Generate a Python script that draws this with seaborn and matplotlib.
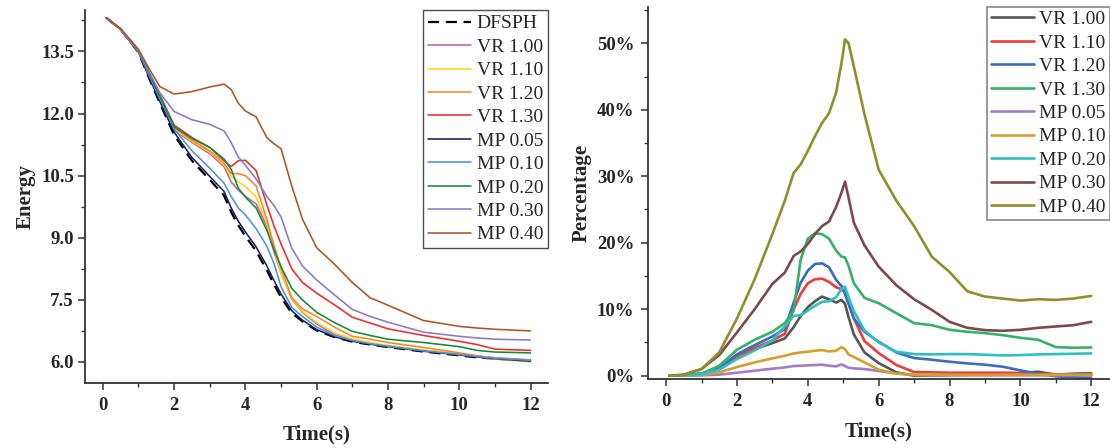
import matplotlib
matplotlib.use("Agg")
import matplotlib.pyplot as plt
import seaborn as sns
from matplotlib.ticker import MultipleLocator, FuncFormatter
from matplotlib.font_manager import FontProperties

# ---------------- data: left panel (Energy) ----------------
t_energy = [0.1, 0.5, 1.0, 1.3, 1.6, 2.0, 2.5, 3.0, 3.4, 3.6, 3.8, 4.0, 4.3, 4.6,
            4.8, 5.0, 5.3, 5.6, 6.0, 6.5, 7.0, 7.5, 8.0, 9.0, 10.0, 10.5, 11.0, 12.0]

e_dfsph = [14.31, 14.03, 13.48, 12.85, 12.25, 11.48, 10.86, 10.40, 10.02, 9.62, 9.30, 9.04, 8.68, 8.22,
           7.88, 7.56, 7.18, 6.98, 6.76, 6.60, 6.49, 6.42, 6.36, 6.25, 6.16, 6.11, 6.08, 6.02]
e_vr100 = [14.31, 14.03, 13.50, 12.95, 12.38, 11.60, 11.30, 11.03, 10.72, 10.35, 10.15, 10.00, 9.82, 9.28,
           8.66, 8.15, 7.52, 7.20, 6.92, 6.66, 6.52, 6.44, 6.38, 6.28, 6.19, 6.14, 6.10, 6.05]
e_vr110 = [14.31, 14.03, 13.50, 12.96, 12.40, 11.63, 11.33, 11.07, 10.76, 10.48, 10.35, 10.24, 9.98, 9.35,
           8.75, 8.14, 7.52, 7.22, 6.95, 6.70, 6.56, 6.47, 6.40, 6.29, 6.19, 6.13, 6.07, 6.00]
e_vr120 = [14.31, 14.04, 13.52, 12.97, 12.42, 11.66, 11.36, 11.10, 10.80, 10.55, 10.55, 10.50, 10.25, 9.45,
           8.82, 8.28, 7.55, 7.28, 7.10, 6.84, 6.62, 6.55, 6.47, 6.35, 6.22, 6.15, 6.10, 6.04]
e_vr130 = [14.31, 14.04, 13.52, 12.98, 12.45, 11.72, 11.42, 11.18, 10.86, 10.72, 10.86, 10.87, 10.62, 9.80,
           9.29, 8.85, 8.25, 7.92, 7.66, 7.38, 7.08, 6.94, 6.80, 6.64, 6.50, 6.42, 6.31, 6.28]
e_mp005 = [14.31, 14.03, 13.48, 12.87, 12.29, 11.55, 10.94, 10.48, 10.12, 9.72, 9.40, 9.14, 8.78, 8.32,
           7.97, 7.64, 7.24, 7.01, 6.78, 6.61, 6.50, 6.43, 6.37, 6.26, 6.17, 6.12, 6.08, 6.02]
e_mp010 = [14.31, 14.03, 13.49, 12.92, 12.36, 11.63, 11.10, 10.68, 10.32, 10.00, 9.72, 9.55, 9.22, 8.80,
           8.38, 7.82, 7.32, 7.10, 6.84, 6.64, 6.52, 6.44, 6.38, 6.27, 6.18, 6.13, 6.09, 6.04]
e_mp020 = [14.31, 14.03, 13.50, 12.96, 12.42, 11.68, 11.40, 11.18, 10.90, 10.65, 10.20, 9.98, 9.72, 9.18,
           8.72, 8.30, 7.78, 7.50, 7.20, 6.95, 6.74, 6.64, 6.55, 6.47, 6.37, 6.28, 6.24, 6.22]
e_mp030 = [14.31, 14.03, 13.50, 13.00, 12.50, 12.05, 11.85, 11.74, 11.58, 11.30, 10.95, 10.75, 10.42, 10.00,
           9.78, 9.50, 8.75, 8.32, 7.98, 7.62, 7.27, 7.10, 6.96, 6.72, 6.62, 6.58, 6.55, 6.53]
e_mp040 = [14.31, 14.05, 13.55, 13.08, 12.65, 12.47, 12.53, 12.64, 12.71, 12.58, 12.25, 12.06, 11.92, 11.42,
           11.27, 11.15, 10.25, 9.45, 8.76, 8.36, 7.92, 7.55, 7.37, 7.00, 6.86, 6.82, 6.79, 6.75]

energy_labels = ["DFSPH", "VR 1.00", "VR 1.10", "VR 1.20", "VR 1.30",
                 "MP 0.05", "MP 0.10", "MP 0.20", "MP 0.30", "MP 0.40"]

# ---------------- data: right panel (Percentage) ----------------
t_pct = [0.1, 0.5, 1.0, 1.5, 2.0, 2.5, 3.0, 3.35, 3.6, 3.8, 4.0, 4.2, 4.4, 4.6, 4.8, 4.95, 5.05,
         5.15, 5.3, 5.6, 6.0, 6.5, 7.0, 7.5, 8.0, 8.5, 9.0, 9.5, 10.0, 10.5, 11.0, 11.5, 12.0]

p_vr100 = [0.0, 0.05, 0.3, 1.0, 3.0, 4.0, 4.9, 5.6, 7.3, 9.0, 10.3, 11.2, 11.9, 11.5, 11.0, 11.4, 10.8,
           8.8, 6.2, 3.5, 1.9, 0.5, 0.0, 0.05, 0.1, 0.15, 0.15, 0.2, 0.4, 0.6, 0.15, 0.3, 0.35]
p_vr110 = [0.0, 0.05, 0.3, 1.0, 2.9, 4.2, 5.3, 6.3, 10.0, 12.3, 13.9, 14.5, 14.6, 14.1, 13.3, 13.0, 12.6,
           11.0, 8.6, 5.2, 3.4, 1.6, 0.55, 0.5, 0.45, 0.45, 0.45, 0.45, 0.4, 0.3, 0.2, 0.15, 0.1]
p_vr120 = [0.0, 0.05, 0.3, 1.2, 3.2, 4.6, 5.9, 7.0, 11.0, 14.0, 15.8, 16.8, 16.9, 16.3, 14.4, 13.5, 12.3,
           10.8, 8.6, 6.6, 5.1, 3.5, 2.65, 2.4, 2.1, 1.85, 1.65, 1.35, 0.8, 0.3, -0.1, -0.25, -0.35]
p_vr130 = [0.0, 0.05, 0.3, 1.5, 3.9, 5.4, 6.6, 7.9, 9.8, 17.5, 20.6, 21.4, 21.3, 20.6, 18.8, 17.9, 17.8,
           16.5, 13.9, 11.7, 10.9, 9.4, 7.9, 7.6, 6.9, 6.6, 6.4, 6.1, 5.7, 5.4, 4.3, 4.2, 4.25]
p_mp005 = [0.0, 0.0, 0.05, 0.15, 0.45, 0.75, 1.05, 1.25, 1.45, 1.5, 1.55, 1.6, 1.65, 1.5, 1.4, 1.7, 1.45,
           1.2, 1.1, 1.0, 0.7, 0.35, 0.1, 0.05, 0.05, 0.05, 0.05, 0.05, 0.05, 0.05, 0.05, 0.05, 0.05]
p_mp010 = [0.0, 0.0, 0.1, 0.5, 1.3, 2.0, 2.6, 3.0, 3.35, 3.5, 3.6, 3.75, 3.85, 3.65, 3.75, 4.3, 4.0,
           3.2, 2.8, 2.0, 0.9, 0.3, 0.15, 0.15, 0.15, 0.15, 0.15, 0.15, 0.15, 0.15, 0.15, 0.15, 0.15]
p_mp020 = [0.0, 0.05, 0.2, 0.9, 2.5, 3.8, 5.3, 7.4, 9.0, 9.1, 9.8, 10.5, 11.1, 11.2, 11.8, 13.0, 13.4,
           11.8, 9.7, 6.8, 5.0, 3.6, 3.25, 3.2, 3.25, 3.25, 3.15, 3.05, 3.1, 3.2, 3.25, 3.3, 3.35]
p_mp030 = [0.0, 0.15, 1.0, 3.1, 6.5, 10.0, 13.8, 15.5, 18.0, 18.7, 19.8, 21.3, 22.5, 23.2, 25.4, 27.5, 29.2,
           26.8, 23.0, 19.6, 16.4, 13.6, 11.5, 9.9, 8.1, 7.2, 6.85, 6.75, 6.9, 7.2, 7.4, 7.6, 8.1]
p_mp040 = [0.0, 0.1, 1.0, 3.5, 8.6, 14.5, 21.3, 26.3, 30.5, 31.8, 33.8, 36.0, 38.0, 39.5, 42.6, 47.0, 50.6,
           50.0, 46.5, 39.3, 31.0, 26.3, 22.5, 17.9, 15.6, 12.7, 11.9, 11.6, 11.3, 11.5, 11.4, 11.6, 12.0]

pct_labels = ["VR 1.00", "VR 1.10", "VR 1.20", "VR 1.30",
              "MP 0.05", "MP 0.10", "MP 0.20", "MP 0.30", "MP 0.40"]

# ---------------- styles ----------------
energy_series = [e_dfsph, e_vr100, e_vr110, e_vr120, e_vr130, e_mp005, e_mp010, e_mp020, e_mp030, e_mp040]
energy_colors = ["#000000", "#c060b0", "#ffd21a", "#f5862e", "#ee2b2b",
                 "#1c1c6a", "#4b93dc", "#14893a", "#8b79c6", "#a8552a"]
pct_series = [p_vr100, p_vr110, p_vr120, p_vr130, p_mp005, p_mp010, p_mp020, p_mp030, p_mp040]
pct_colors = ["#555555", "#ee3c3c", "#3a6cc0", "#37b06a", "#a57cc6",
              "#d4a02c", "#2ebfc6", "#7b4a4c", "#8f8f2c"]

sns.set_theme(style="ticks")
plt.rcParams["font.family"] = ["Liberation Serif", "DejaVu Serif"]
plt.rcParams["axes.linewidth"] = 1.3
plt.rcParams["axes.edgecolor"] = "#333333"

fig = plt.figure(figsize=(11.1, 4.48), dpi=100)
axL = fig.add_axes([0.0766, 0.1458, 0.4174, 0.8319])
axR = fig.add_axes([0.5841, 0.1540, 0.4150, 0.8310])

for lab, vals, col in zip(energy_labels, energy_series, energy_colors):
    if lab == "DFSPH":
        sns.lineplot(x=t_energy, y=vals, ax=axL, color=col, label=lab,
                     linewidth=1.6, linestyle=(0, (5, 3)), zorder=1)
    else:
        sns.lineplot(x=t_energy, y=vals, ax=axL, color=col, label=lab,
                     linewidth=1.15, zorder=2)

for lab, vals, col in zip(pct_labels, pct_series, pct_colors):
    sns.lineplot(x=t_pct, y=vals, ax=axR, color=col, label=lab, linewidth=1.9)

leg_font = FontProperties(family="Liberation Serif", size=14)

# left axes
axL.set_xlim(-0.5, 12.5)
axL.set_ylim(5.5, 14.5)
axL.xaxis.set_major_locator(MultipleLocator(2))
axL.xaxis.set_minor_locator(MultipleLocator(1))
axL.yaxis.set_major_locator(MultipleLocator(1.5))
axL.yaxis.set_minor_locator(MultipleLocator(0.75))
axL.yaxis.set_major_formatter(FuncFormatter(lambda v, p: f"{v:.1f}"))
axL.set_ylabel("Energy", fontsize=15, fontweight="bold", labelpad=4)
axL.set_xlabel("Time(s)", fontsize=15, fontweight="bold", labelpad=8)
leg = axL.legend(loc="upper right", bbox_to_anchor=(1.0, 1.0), borderaxespad=0.0,
                 prop=leg_font, frameon=True, fancybox=False, handlelength=2.2,
                 handletextpad=0.3, labelspacing=0.3, borderpad=0.25)
leg.get_frame().set_edgecolor("#222222")
leg.get_frame().set_linewidth(1.0)

# right axes
axR.set_xlim(-0.5, 12.5)
axR.set_ylim(-0.5, 55.5)
axR.xaxis.set_major_locator(MultipleLocator(2))
axR.xaxis.set_minor_locator(MultipleLocator(1))
axR.yaxis.set_major_locator(MultipleLocator(10))
axR.yaxis.set_minor_locator(MultipleLocator(5))
axR.yaxis.set_major_formatter(FuncFormatter(lambda v, p: f"{v:.0f}%"))
axR.set_ylabel("Percentage", fontsize=15, fontweight="bold", labelpad=4)
axR.set_xlabel("Time(s)", fontsize=15, fontweight="bold", labelpad=8)
leg2 = axR.legend(loc="upper right", bbox_to_anchor=(1.002, 1.0), borderaxespad=0.0,
                  prop=leg_font, frameon=True, fancybox=False, handlelength=2.2,
                  handletextpad=0.3, labelspacing=0.3, borderpad=0.2)
leg2.get_frame().set_edgecolor("#777777")
leg2.get_frame().set_linewidth(1.3)

for ax in (axL, axR):
    sns.despine(ax=ax)
    ax.tick_params(which="major", direction="out", length=5, width=1.1, color="#333333", pad=3)
    ax.tick_params(which="minor", direction="out", length=3, width=1.0, color="#333333")
    for lbl in ax.get_xticklabels() + ax.get_yticklabels():
        lbl.set_fontsize(13.5)
        lbl.set_fontweight("bold")
axR.tick_params(axis="y", which="major", pad=5)
axL.tick_params(axis="x", which="major", pad=5)
axR.tick_params(axis="x", which="major", pad=5)

fig.savefig("out.png", dpi=100)
